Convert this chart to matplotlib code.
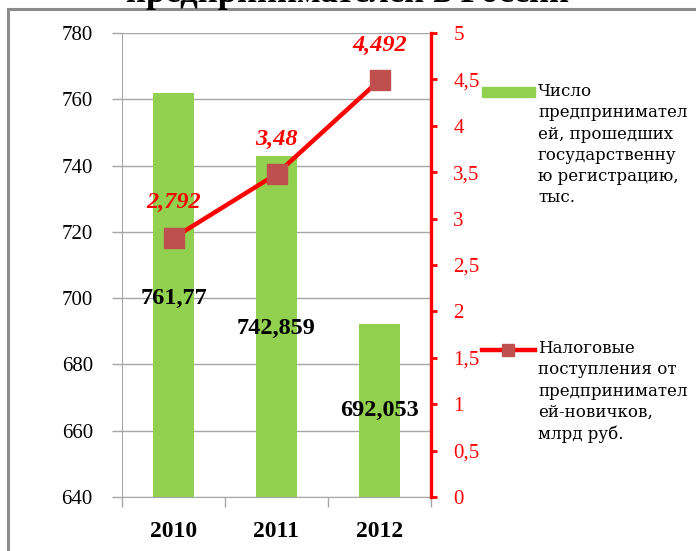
import matplotlib
matplotlib.use('Agg')
import matplotlib.pyplot as plt
from matplotlib.patches import Rectangle
from matplotlib.lines import Line2D

# -----------------------------
# Data
# -----------------------------
years = ["2010", "2011", "2012"]
registered = [761.77, 742.859, 692.053]      # тыс. человек
tax_income = [2.792, 3.48, 4.492]             # млрд руб.
bar_labels = ["761,77", "742,859", "692,053"]
line_labels = ["2,792", "3,48", "4,492"]
left_ticks = [640, 660, 680, 700, 720, 740, 760, 780]
right_ticks = [0, 0.5, 1, 1.5, 2, 2.5, 3, 3.5, 4, 4.5, 5]
right_tick_labels = ["0", "0,5", "1", "1,5", "2", "2,5", "3", "3,5", "4", "4,5", "5"]

# where the bar value labels sit (left-axis units)
bar_label_y = [700, 691, 666]

legend_bar = "Число\nпредпринимател\nей, прошедших\nгосударственну\nю регистрацию,\nтыс."
legend_line = "Налоговые\nпоступления от\nпредпринимател\nей-новичков,\nмлрд руб."

GREEN = "#92D050"
RED = "#FF0000"
MARK = "#C0504D"
GRID = "#A6A6A6"
SERIF = "Liberation Serif"

plt.rcParams['font.family'] = [SERIF, 'DejaVu Serif']

fig = plt.figure(figsize=(6.96, 5.51), dpi=100)

# outer frame (chart area border)
fig.patches.append(Rectangle((8 / 696, -0.05), 1.0, 1 - 9 / 551 + 0.05,
                             transform=fig.transFigure, fill=False,
                             edgecolor="#8C8C8C", lw=2.2))
# title is cut off at the top in the original
fig.text(0.5, 1 - 2 / 551, "предпринимателей в России", ha="center",
         va="baseline", fontsize=25, fontweight="bold")

ax = fig.add_axes([122 / 696, 1 - 497 / 551, 309 / 696, 464 / 551])
x = list(range(len(years)))
ax.bar(x, registered, width=0.39, color=GREEN, zorder=2)
ax.set_xlim(-0.5, 2.5)
ax.set_ylim(640, 780)
ax.set_yticks(left_ticks)
ax.set_yticklabels([str(t) for t in left_ticks])
ax.yaxis.grid(True, color=GRID, lw=1, zorder=0)
ax.set_axisbelow(True)
ax.tick_params(axis="y", length=7, width=1, color=GRID, pad=14, labelsize=15)

ax.set_xticks(x)
ax.set_xticklabels(years, fontweight="bold")
ax.set_xticks([-0.5, 0.5, 1.5, 2.5], minor=True)
ax.tick_params(axis="x", which="major", length=0, pad=17, labelsize=17)
ax.tick_params(axis="x", which="minor", length=7, width=1, color=GRID)

for s in ["top", "right"]:
    ax.spines[s].set_visible(False)
ax.spines["left"].set_color(GRID)
ax.spines["bottom"].set_color(GRID)

for i, (lbl, ly) in enumerate(zip(bar_labels, bar_label_y)):
    ax.text(i, ly, lbl, ha="center", va="center",
            fontsize=17.5, fontweight="bold", zorder=5)

ax2 = ax.twinx()
ax2.plot(x, tax_income, color=RED, lw=3.2, marker="s", markersize=14,
         markerfacecolor=MARK, markeredgecolor=MARK, zorder=4)
ax2.set_ylim(0, 5)
ax2.set_yticks(right_ticks)
ax2.set_yticklabels(right_tick_labels)
ax2.tick_params(axis="y", length=4, width=2, color=RED, labelcolor=RED,
                pad=12, labelsize=15)
for s in ["top", "left", "bottom"]:
    ax2.spines[s].set_visible(False)
ax2.spines["right"].set_color(RED)
ax2.spines["right"].set_linewidth(2.4)

for i, lbl in enumerate(line_labels):
    ax2.annotate(lbl, (x[i], tax_income[i]), xytext=(0, 35),
                 textcoords="offset pixels", ha="center", va="center",
                 color=RED, fontsize=17.5, fontweight="bold",
                 fontstyle="italic")

# legend, drawn by hand to match the spaced-out layout
fig.patches.append(Rectangle((482 / 696, 1 - 97 / 551), 53 / 696, 10 / 551,
                             transform=fig.transFigure, color=GREEN))
fig.text(538 / 696, 1 - 83 / 551, legend_bar, ha="left", va="top",
         family="DejaVu Serif", fontsize=12, linespacing=1.33)

fig.lines.append(Line2D([482 / 696, 535 / 696], [1 - 350 / 551] * 2,
                        transform=fig.transFigure, color=RED, lw=3.2))
fig.lines.append(Line2D([508 / 696], [1 - 350 / 551], transform=fig.transFigure,
                        marker="s", markersize=9, color=MARK, lw=0))
fig.text(538 / 696, 1 - 340 / 551, legend_line, ha="left", va="top",
         family="DejaVu Serif", fontsize=12, linespacing=1.33)

fig.savefig("out.png", dpi=100)
plt.close(fig)
